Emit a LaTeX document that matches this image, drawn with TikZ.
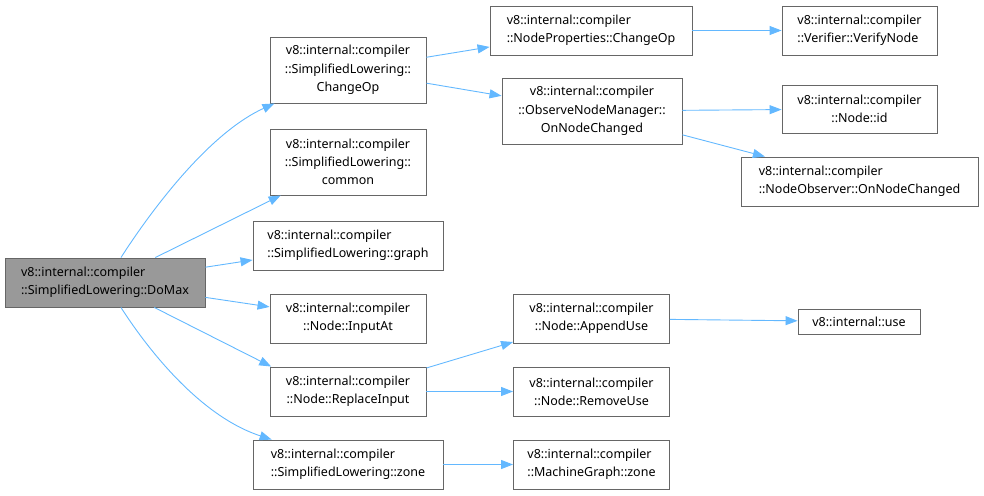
\documentclass[tikz,border=0pt]{standalone}
\usepackage{fontspec}
\setmainfont{Noto Sans}
\usetikzlibrary{arrows.meta}

\definecolor{edgeblue}{HTML}{63B8FF}
\definecolor{boxline}{HTML}{666666}
\definecolor{curfill}{HTML}{999999}

\begin{document}
\begin{tikzpicture}[x=1pt, y=-1pt, >={Triangle[length=12pt, width=9pt]},
    fn/.style={draw=boxline, line width=0.9pt, fill=white, inner sep=0pt,
      minimum width=156pt, minimum height=49pt, align=center,
      font=\fontsize{12.5}{18.3}\selectfont},
    tall/.style={fn, minimum height=66pt},
    cur/.style={fn, fill=curfill},
    call/.style={->, draw=edgeblue, line width=0.9pt}]

    \useasboundingbox (0,0) rectangle (984,495);

    % ==================================================
    % 起点
    % ==================================================
    \node[cur, minimum width=200pt, align=left] (domax) at (105,282.5)
      {v8::internal::compiler\\::SimplifiedLowering::DoMax};

    % ==================================================
    % 1段目
    % ==================================================
    \node[tall] (chop) at (348,70)
      {v8::internal::compiler\\::SimplifiedLowering::\\ChangeOp};
    \node[tall] (common) at (348,162)
      {v8::internal::compiler\\::SimplifiedLowering::\\common};
    \node[fn, minimum width=190pt, align=left] (graph) at (348,245.5)
      {v8::internal::compiler\\::SimplifiedLowering::graph};
    \node[fn] (inputat) at (348,318.5)
      {v8::internal::compiler\\::Node::InputAt};
    \node[fn] (replace) at (348,391.5)
      {v8::internal::compiler\\::Node::ReplaceInput};
    \node[fn, minimum width=190pt, align=left] (slzone) at (348,464.5)
      {v8::internal::compiler\\::SimplifiedLowering::zone};

    % ==================================================
    % 2段目
    % ==================================================
    \node[fn, minimum width=202pt, align=left] (npchop) at (591,30.5)
      {v8::internal::compiler\\::NodeProperties::ChangeOp};
    \node[tall, minimum width=180pt] (onnc) at (592,111)
      {v8::internal::compiler\\::ObserveNodeManager::\\OnNodeChanged};
    \node[fn] (append) at (591.5,318.5)
      {v8::internal::compiler\\::Node::AppendUse};
    \node[fn] (remove) at (591.5,391.5)
      {v8::internal::compiler\\::Node::RemoveUse};
    \node[fn, align=left] (mgzone) at (591.5,464.5)
      {v8::internal::compiler\\::MachineGraph::zone};

    % ==================================================
    % 3段目
    % ==================================================
    \node[fn, minimum width=155pt, align=left] (verify) at (859.5,30.5)
      {v8::internal::compiler\\::Verifier::VerifyNode};
    \node[fn, minimum width=155pt, minimum height=48pt] (nid) at (859.5,109)
      {v8::internal::compiler\\::Node::id};
    \node[fn, minimum width=237pt, align=left] (obs) at (859.5,181.5)
      {v8::internal::compiler\\::NodeObserver::OnNodeChanged};
    \node[fn, minimum width=122pt, minimum height=25pt] (use) at (859,321.5)
      {v8::internal::use};

    % ==================================================
    % 呼び出し
    % ==================================================

    % DoMax から
    \draw[call] (domax) .. controls (145,220) and (205,135) .. (chop);
    \draw[call] (domax) -- (common);
    \draw[call] (domax) -- (graph);
    \draw[call] (domax) -- (inputat);
    \draw[call] (domax) -- (replace.162);
    \draw[call] (domax) .. controls (145,345) and (198,415.5) .. (slzone);

    % ChangeOp から
    \draw[call] (chop) -- (npchop);
    \draw[call] (chop) -- (onnc);
    \draw[call] (npchop) -- (verify);
    \draw[call] (onnc) -- (nid);
    \draw[call] (onnc) -- (obs);

    % ReplaceInput / zone から
    \draw[call] (replace) -- (append);
    \draw[call] (replace) -- (remove);
    \draw[call] (append) -- (use);
    \draw[call] (slzone) -- (mgzone);

  \end{tikzpicture}
\end{document}
